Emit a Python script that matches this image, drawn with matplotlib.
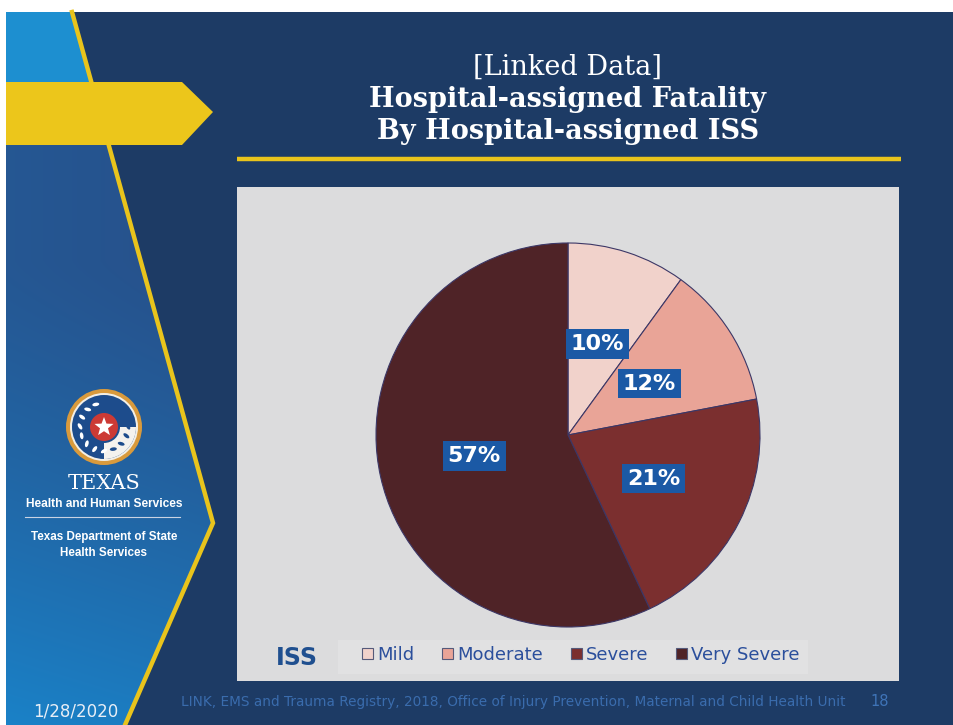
import numpy as np
import matplotlib
matplotlib.use("Agg")
import matplotlib.pyplot as plt
from matplotlib.patches import Polygon, Rectangle, Circle, Wedge
import matplotlib.patches as mpatches

# ---- data ----
categories = ["Mild", "Moderate", "Severe", "Very Severe"]
shares = [10, 12, 21, 57]
slice_colors = ["#f1d2cb", "#e9a497", "#7b2f2f", "#4f2327"]
title_lines = ["[Linked Data]", "Hospital-assigned Fatality", "By Hospital-assigned ISS"]
legend_title = "ISS"
source_note = ("LINK, EMS and Trauma Registry, 2018, Office of Injury Prevention, "
               "Maternal and Child Health Unit")
slide_number = "18"
slide_date = "1/28/2020"

W, H = 954, 725
NAVY = "#1d3b65"
YELLOW = "#e9c41c"

fig = plt.figure(figsize=(W / 100, H / 100), dpi=100, facecolor="white")

# full-slide drawing layer in pixel coordinates
bg = fig.add_axes([0, 0, 1, 1])
bg.set_xlim(0, W)
bg.set_ylim(H, 0)
bg.axis("off")

# slide body
bg.add_patch(Rectangle((6, 12), W - 6, H - 12, fc=NAVY, ec="none", zorder=0))

# light blue block at the top-left corner
bg.add_patch(Polygon([(6, 12), (72, 12), (91, 82), (6, 82)], closed=True,
                     fc="#1d8fd0", ec="none", zorder=1))

# gradient panel left of the chevron line
panel = [(6, 145), (108, 145), (213, 523), (125, H), (6, H)]
yy, xx = np.mgrid[145:H, 6:216]
f = np.clip((yy - 260) / 465.0, 0, 1) ** 1.3 * 0.85 + np.clip(1 - xx / 215.0, 0, 1) * 0.15
c0 = np.array([0x27, 0x50, 0x8a]) / 255.0
c1 = np.array([0x1a, 0x82, 0xc8]) / 255.0
img = c0[None, None, :] * (1 - f[..., None]) + c1[None, None, :] * f[..., None]
im = bg.imshow(img, extent=(6, 216, H, 145), origin="upper", zorder=1, aspect="auto")
clip = Polygon(panel, closed=True, transform=bg.transData)
im.set_clip_path(clip)

# yellow chevron line
bg.plot([72, 213, 125], [12, 523, H], color=YELLOW, lw=3.2, solid_joinstyle="miter",
        zorder=2)

# yellow arrow band
bg.add_patch(Polygon([(6, 82), (182, 82), (213, 112), (182, 145), (6, 145)],
                     closed=True, fc="#ecc61b", ec="none", zorder=3))

# title
title_x = 568
bg.text(title_x, 67, title_lines[0], ha="center", va="center", color="white",
        fontsize=19.5, family="DejaVu Serif", zorder=4)
for y, line in zip([99, 131], title_lines[1:]):
    bg.text(title_x, y, line, ha="center", va="center", color="white",
            fontsize=19.5, fontweight="bold", family="DejaVu Serif", zorder=4)
bg.plot([237, 901], [159, 159], color=YELLOW, lw=3.2, solid_capstyle="butt", zorder=4)

# chart panel
bg.add_patch(Rectangle((237, 187), 662, 494, fc="#dcdcdd", ec="none", zorder=2))
bg.add_patch(Rectangle((338, 640), 470, 34, fc="#e1e1e2", ec="none", zorder=2))

# seal
cx, cy = 104, 427
bg.add_patch(Circle((cx, cy), 38, fc="#d99a3c", ec="none", zorder=4))
bg.add_patch(Circle((cx, cy), 34, fc="#f3efe6", ec="none", zorder=4))
bg.add_patch(Circle((cx, cy), 32, fc="#1d4c8c", ec="none", zorder=4))
bg.add_patch(Wedge((cx, cy), 32, 0, 90, fc="#f4f2ee", ec="none", zorder=4))
for ang in np.linspace(110, 430, 15):
    a = np.deg2rad(ang)
    r = 24
    px, py = cx + r * np.cos(a), cy - r * np.sin(a)
    bg.add_patch(mpatches.Ellipse((px, py), 7, 3.5, angle=ang + 60,
                                  fc="white" if 90 < (ang % 360) < 280 else "#1d4c8c",
                                  ec="none", zorder=5))
bg.add_patch(Circle((cx, cy), 16, fc="#1d4c8c", ec="none", zorder=5))
bg.add_patch(Circle((cx, cy), 14, fc="#cc3a35", ec="none", zorder=5))
star = []
for k in range(10):
    r = 10 if k % 2 == 0 else 4.2
    a = np.deg2rad(90 + k * 36)
    star.append((cx + r * np.cos(a), cy - r * np.sin(a)))
bg.add_patch(Polygon(star, closed=True, fc="white", ec="none", zorder=6))

narrow = "Liberation Sans"
bg.text(cx, 483, "TEXAS", ha="center", va="center", color="white", fontsize=15,
        family="DejaVu Serif", zorder=5)
bg.text(cx, 504, "Health and Human Services", ha="center", va="center", color="white",
        fontsize=8.6, fontweight="bold", family=narrow, zorder=5)
bg.plot([25, 180], [517, 517], color="#c9d3e3", lw=0.8, zorder=5)
bg.text(cx, 537, "Texas Department of State", ha="center", va="center", color="white",
        fontsize=8.4, fontweight="bold", family=narrow, zorder=5)
bg.text(cx, 553, "Health Services", ha="center", va="center", color="white",
        fontsize=8.4, fontweight="bold", family=narrow, zorder=5)

# footer
bg.text(33, 712, slide_date, ha="left", va="center", color="#e8eef6", fontsize=12,
        zorder=5)
bg.text(181, 702, source_note, ha="left", va="center", color="#3a6cad", fontsize=9.8,
        zorder=5)
bg.text(880, 701, slide_number, ha="center", va="center", color="#3f74b8", fontsize=10.5,
        zorder=5)

# ---- pie ----
pcx, pcy, R = 568, 435, 192
pie_ax = fig.add_axes([(pcx - R) / W, (H - pcy - R) / H, 2 * R / W, 2 * R / H])
pie_ax.set_zorder(3)
pie_ax.patch.set_visible(False)
wedges, _, autotexts = pie_ax.pie(
    shares, colors=slice_colors, startangle=90, counterclock=False, radius=1,
    autopct="%.0f%%", pctdistance=0.5,
    wedgeprops=dict(edgecolor="#3c3766", linewidth=0.8),
    textprops=dict(color="white", fontsize=16, fontweight="bold"))
for t in autotexts:
    t.set_bbox(dict(boxstyle="square,pad=0.22", fc="#1b59a5", ec="none"))
pie_ax.set_xlim(-1, 1)
pie_ax.set_ylim(-1, 1)
pie_ax.set_aspect("equal")
pie_ax.axis("off")

# legend
bg.text(297, 658, legend_title, ha="center", va="center", color="#1f4f8f",
        fontsize=17, fontweight="bold", zorder=5)
leg = fig.legend(wedges, categories, loc="center left",
                 bbox_to_anchor=(346 / W, 1 - 655 / H), ncol=4, frameon=False,
                 handlelength=0.62, handleheight=0.62, handletextpad=0.2,
                 columnspacing=1.55, fontsize=13, labelcolor="#2b4f9c")
for h in leg.legend_handles:
    h.set_edgecolor("#555a7a")
    h.set_linewidth(0.8)

fig.savefig("out.png", dpi=100, facecolor="white")
